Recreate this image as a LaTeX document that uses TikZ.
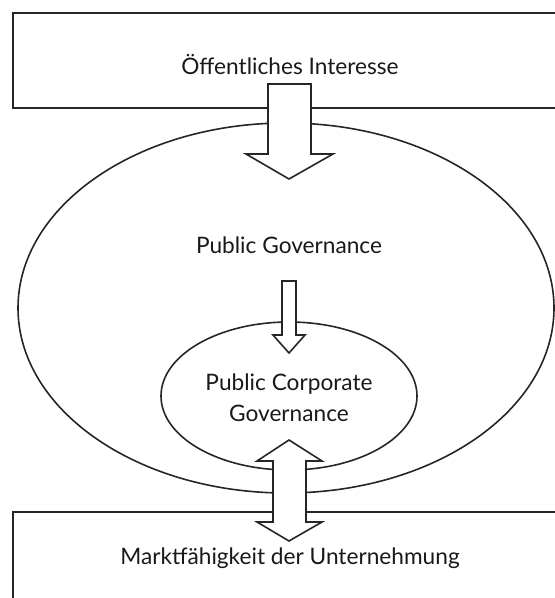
\documentclass[tikz,border=0pt]{standalone}
\usepackage{fontspec}
\setmainfont{Lato}
\usetikzlibrary{shapes.geometric}
\begin{document}
\begin{tikzpicture}[x=0.75pt,y=-0.75pt,
  frame/.style={draw=black!85, line width=1.2pt, inner sep=0pt},
  lbl/.style={font=\fontsize{17}{23}\selectfont, text=black!90, inner sep=0pt, anchor=base, align=center},
  blockarrow/.style={draw=black!85, fill=white, line width=1.2pt, line join=miter}]
\useasboundingbox (0,0) rectangle (555,598);
\clip (0,0) rectangle (555,598);

% frames: boxes run off the right (and bottom) edge
\node[frame, rectangle, minimum width=415.5pt, minimum height=71.25pt] (top) at (290,60.5) {};
\node[frame, rectangle, minimum width=415.5pt, minimum height=96pt] (bottom) at (290,576) {};
\node[frame, ellipse, minimum width=402pt, minimum height=277.5pt] (pg) at (286,308) {};
\node[frame, ellipse, minimum width=192pt, minimum height=111pt] (pcg) at (289,396) {};

% labels (base anchor of a two-line label sits on its last line)
\node[lbl] (oi) at (290,75) {Öffentliches Interesse};
\node[lbl] (pgt) at (289,253) {Public Governance};
\node[lbl] (pcgt) at (289,421) {Public Corporate\\Governance};
\node[lbl] (mu) at (290,564) {Marktfähigkeit der Unternehmung};

% block arrows
\draw[blockarrow] (268,84) -- (311,84) -- (311,154) -- (333,154) -- (289,179)
  -- (246,154) -- (268,154) -- cycle;
\draw[blockarrow] (282,281) -- (296,281) -- (296,335) -- (305,335) -- (289,353)
  -- (273,335) -- (282,335) -- cycle;
\draw[blockarrow] (289,440) -- (322,461) -- (306,461) -- (306,522) -- (322,522)
  -- (289,541) -- (257,522) -- (273,522) -- (273,461) -- (257,461) -- cycle;
\end{tikzpicture}
\end{document}
